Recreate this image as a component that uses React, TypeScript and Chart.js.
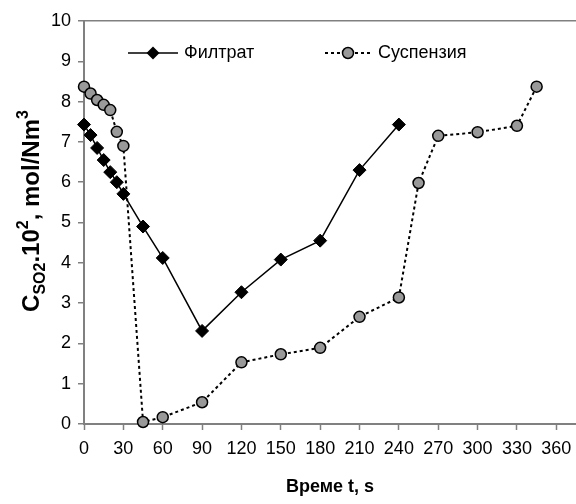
import React, { useEffect, useRef } from "react";
import { Chart, registerables } from "chart.js";

Chart.register(...registerables);

const filtrateT = [0, 5, 10, 15, 20, 25, 30, 45, 60, 90, 120, 150, 180, 210, 240];
const filtrateC = [7.43, 7.17, 6.85, 6.55, 6.25, 6.0, 5.71, 4.9, 4.12, 2.31, 3.27, 4.08, 4.55, 6.3, 7.43];

const suspensionT = [0, 5, 10, 15, 20, 25, 30, 45, 60, 90, 120, 150, 180, 210, 240, 255, 270, 300, 330, 345];
const suspensionC = [8.37, 8.2, 8.04, 7.92, 7.79, 7.25, 6.9, 0.05, 0.17, 0.54, 1.53, 1.73, 1.89, 2.66, 3.14, 5.98, 7.15, 7.24, 7.4, 8.37];

const xTickValues = [0, 30, 60, 90, 120, 150, 180, 210, 240, 270, 300, 330, 360];
const yTickValues = [0, 1, 2, 3, 4, 5, 6, 7, 8, 9, 10];

const seriesNames = ["Филтрат", "Суспензия"];
const xTitle = "Време t, s";
const yTitleParts = [
  { t: "C", kind: "main" },
  { t: "SO2", kind: "sub" },
  { t: ".10", kind: "main" },
  { t: "2", kind: "sup" },
  { t: ", mol/Nm", kind: "main" },
  { t: "3", kind: "sup" },
];

const FONT = "Arial, 'Liberation Sans', sans-serif";
const AXIS_GRAY = "#808080";
const SUSP_FILL = "#999999";

function yTitlePartsWidths(ctx: any, fonts: any) {
  return yTitleParts.map((p) => {
    ctx.font = fonts[p.kind];
    return ctx.measureText(p.t).width;
  });
}

const yTitlePlugin = {
  id: "yTitlePlugin",
  afterDraw(chart: any) {
    const ctx = chart.ctx;
    const fonts: any = {
      main: `bold 24px ${FONT}`,
      sub: `bold 16px ${FONT}`,
      sup: `bold 16px ${FONT}`,
    };
    const dy: any = { main: 0, sub: 6, sup: -11 };
    ctx.save();
    const widths = yTitlePartsWidths(ctx, fonts);
    let total = 0;
    widths.forEach((w: number) => (total += w));
    ctx.translate(39, 211);
    ctx.rotate(-Math.PI / 2);
    ctx.fillStyle = "#000";
    ctx.textBaseline = "alphabetic";
    ctx.textAlign = "left";
    let u = -total / 2;
    yTitleParts.forEach((p, i) => {
      ctx.font = fonts[p.kind];
      ctx.fillText(p.t, u, dy[p.kind]);
      u += widths[i];
    });
    ctx.restore();
  },
};

const legendPlugin = {
  id: "customLegend",
  afterDraw(chart: any) {
    const ctx = chart.ctx;
    const y = 53;
    ctx.save();
    ctx.strokeStyle = "#000";
    ctx.lineWidth = 1.5;
    ctx.setLineDash([]);
    ctx.beginPath();
    ctx.moveTo(128, y);
    ctx.lineTo(178, y);
    ctx.stroke();
    ctx.fillStyle = "#000";
    ctx.beginPath();
    const r = 6.5;
    ctx.moveTo(153, y - r);
    ctx.lineTo(153 + r, y);
    ctx.lineTo(153, y + r);
    ctx.lineTo(153 - r, y);
    ctx.closePath();
    ctx.fill();
    ctx.lineWidth = 2;
    ctx.setLineDash([3, 3]);
    ctx.beginPath();
    ctx.moveTo(325, y);
    ctx.lineTo(372, y);
    ctx.stroke();
    ctx.setLineDash([]);
    ctx.beginPath();
    ctx.arc(348, y, 5.5, 0, Math.PI * 2);
    ctx.fillStyle = SUSP_FILL;
    ctx.fill();
    ctx.lineWidth = 1.5;
    ctx.strokeStyle = "#000";
    ctx.stroke();
    ctx.fillStyle = "#000";
    ctx.font = `18px ${FONT}`;
    ctx.textBaseline = "middle";
    ctx.textAlign = "left";
    ctx.fillText(seriesNames[0], 184, y);
    ctx.fillText(seriesNames[1], 378, y);
    ctx.restore();
  },
};

export default function App() {
  const ref = useRef<HTMLCanvasElement | null>(null);
  useEffect(() => {
    if (!ref.current) return;
    const chart = new Chart(ref.current, {
      type: "line",
      data: {
        datasets: [
          {
            label: seriesNames[0],
            data: filtrateT.map((t, i) => ({ x: t, y: filtrateC[i] })),
            borderColor: "#000",
            borderWidth: 1.5,
            pointStyle: "rectRot",
            pointRadius: 6.5,
            pointBackgroundColor: "#000",
            pointBorderColor: "#000",
            pointBorderWidth: 1,
            tension: 0,
            clip: false,
          } as any,
          {
            label: seriesNames[1],
            data: suspensionT.map((t, i) => ({ x: t, y: suspensionC[i] })),
            borderColor: "#000",
            borderWidth: 2,
            borderDash: [3, 3],
            pointStyle: "circle",
            pointRadius: 5.5,
            pointBackgroundColor: SUSP_FILL,
            pointBorderColor: "#000",
            pointBorderWidth: 1.5,
            tension: 0,
            clip: false,
          } as any,
        ],
      },
      options: {
        animation: false,
        responsive: false,
        maintainAspectRatio: false,
        layout: { autoPadding: false, padding: { top: 21, right: 0, left: 0, bottom: 0 } },
        plugins: { legend: { display: false }, tooltip: { enabled: false } },
        scales: {
          x: {
            type: "linear",
            min: 0,
            max: 375,
            afterBuildTicks: (scale: any) => {
              scale.ticks = xTickValues.map((v) => ({ value: v }));
            },
            afterFit: (scale: any) => {
              scale.height = 80;
              scale.paddingRight = 0;
              scale.paddingLeft = 0;
            },
            ticks: {
              color: "#000",
              font: { family: FONT, size: 18 },
              padding: 8,
              maxRotation: 0,
              autoSkip: false,
            },
            grid: {
              drawOnChartArea: false,
              color: "rgba(0,0,0,0)",
              tickColor: AXIS_GRAY,
              tickLength: 6,
              tickWidth: 1.5,
            },
            border: { display: true, color: AXIS_GRAY, width: 2 },
            title: {
              display: true,
              text: xTitle,
              color: "#000",
              font: { family: FONT, size: 18, weight: "bold" },
              padding: { top: 0, bottom: 6 },
            },
          },
          y: {
            type: "linear",
            min: 0,
            max: 10,
            afterBuildTicks: (scale: any) => {
              scale.ticks = yTickValues.map((v) => ({ value: v }));
            },
            afterFit: (scale: any) => {
              scale.width = 84;
            },
            ticks: {
              color: "#000",
              font: { family: FONT, size: 18 },
              padding: 7,
            },
            grid: {
              color: (c: any) => (c.tick && c.tick.value === 10 ? AXIS_GRAY : "rgba(0,0,0,0)"),
              lineWidth: 1.5,
              tickColor: AXIS_GRAY,
              tickLength: 6,
              tickWidth: 1.5,
            },
            border: { display: true, color: AXIS_GRAY, width: 2 },
          },
        },
      } as any,
      plugins: [yTitlePlugin, legendPlugin],
    });
    return () => chart.destroy();
  }, []);
  return (
    <div style={{ position: "absolute", left: 0, top: 0, width: 576, height: 504, background: "#fff" }}>
      <canvas ref={ref} width={576} height={504} />
    </div>
  );
}
